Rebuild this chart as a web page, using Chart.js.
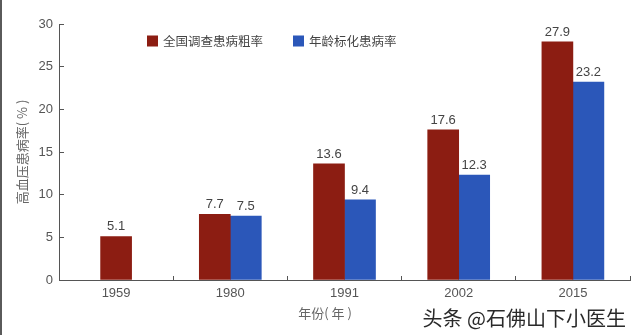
<!DOCTYPE html>
<html><head><meta charset="utf-8">
<script src="https://cdn.jsdelivr.net/npm/chart.js@4.4.1/dist/chart.umd.min.js"></script>
<style>html,body{margin:0;padding:0;background:#fff;overflow:hidden}#wrap{width:640px;height:335px;position:relative}</style>
</head><body><div id="wrap"><canvas id="c" width="640" height="335"></canvas></div>
<script>
const categories = ['1959', '1980', '1991', '2002', '2015'];
const crudeRate = [5.1, 7.7, 13.6, 17.6, 27.9];
const standardizedRate = [null, 7.5, 9.4, 12.3, 23.2];
const seriesNames = ['全国调查患病粗率', '年龄标化患病率'];
const yTicks = [0, 5, 10, 15, 20, 25, 30];
const yTitle = '高血压患病率( % )';
const xTitle = '年份( 年 )';
const watermark = '头条 @石佛山下小医生';

const RED = '#8c1d12';
const BLUE = '#2b57b9';
const LATIN = "'Liberation Sans', Arial, 'Noto Sans CJK SC', sans-serif";
const CJK = "'Noto Sans CJK SC', 'Liberation Sans', sans-serif";

const extras = {
  id: 'extras',
  beforeDraw(chart) {
    const ctx = chart.ctx;
    ctx.save();
    ctx.fillStyle = '#fff';
    ctx.fillRect(0, 0, chart.width, chart.height);
    ctx.fillStyle = '#5a5a5a';
    ctx.fillRect(0, 0, 2, chart.height);
    ctx.restore();
  },
  afterDatasetsDraw(chart) {
    const ctx = chart.ctx;
    ctx.save();
    ctx.font = '13px ' + LATIN;
    ctx.fillStyle = '#444';
    ctx.textAlign = 'center';
    ctx.textBaseline = 'alphabetic';
    chart.data.datasets.forEach((ds, di) => {
      const meta = chart.getDatasetMeta(di);
      meta.data.forEach((bar, i) => {
        const v = ds.data[i];
        if (v == null) return;
        ctx.fillText(v.toFixed(1), bar.x, bar.y - 6);
      });
    });
    ctx.restore();
  },
  afterDraw(chart) {
    const ctx = chart.ctx;
    const ca = chart.chartArea;
    ctx.save();
    // legend
    ctx.font = '12.5px ' + CJK;
    ctx.textBaseline = 'middle';
    ctx.textAlign = 'left';
    const ly = ca.top + 17;
    const starts = [ca.left + 88, ca.left + 234];
    chart.data.datasets.forEach((ds, i) => {
      const x = starts[i];
      ctx.fillStyle = ds.backgroundColor;
      ctx.fillRect(x, ly - 5.5, 11, 11);
      ctx.fillStyle = '#444';
      ctx.fillText(ds.label, x + 16, ly);
    });
    // watermark
    ctx.font = '20px ' + CJK;
    ctx.textAlign = 'right';
    ctx.textBaseline = 'middle';
    ctx.lineWidth = 3;
    ctx.strokeStyle = 'rgba(255,255,255,0.9)';
    ctx.strokeText(watermark, chart.width - 14, 318);
    ctx.fillStyle = '#2a2a2a';
    ctx.fillText(watermark, chart.width - 14, 318);
    ctx.restore();
  }
};

new Chart(document.getElementById('c'), {
  type: 'bar',
  data: {
    labels: categories,
    datasets: [
      { label: seriesNames[0], data: crudeRate, backgroundColor: RED },
      { label: seriesNames[1], data: standardizedRate, backgroundColor: BLUE }
    ]
  },
  options: {
    responsive: false,
    animation: false,
    devicePixelRatio: 1,
    skipNull: true,
    barThickness: 31,
    layout: { padding: { left: 0, right: 10, top: 24, bottom: 0 } },
    plugins: { legend: { display: false }, tooltip: { enabled: false } },
    scales: {
      x: {
        offset: true,
        grid: { offset: true, drawOnChartArea: false, drawTicks: true, tickLength: -4, color: '#555', lineWidth: 1 },
        border: { display: true, color: '#555', width: 1 },
        ticks: { padding: 10, color: '#555', font: { size: 13, family: LATIN } },
        title: { display: true, text: xTitle + '\u3000\u3000\u3000', color: '#666', font: { size: 13, family: CJK }, padding: { top: 0, bottom: 14 } },
        afterFit(s) { s.height = 55; }
      },
      y: {
        min: 0, max: 30,
        afterBuildTicks(s) { s.ticks = yTicks.map(v => ({ value: v })); },
        grid: { drawOnChartArea: false, drawTicks: true, tickLength: -5, color: '#555', lineWidth: 1 },
        border: { display: true, color: '#555', width: 1 },
        ticks: { padding: 11, color: '#555', font: { size: 13, family: LATIN } },
        title: { display: true, text: yTitle, color: '#666', font: { size: 13, family: CJK }, padding: { top: 14, bottom: 0 } },
        afterFit(s) { s.width = 59; }
      }
    }
  },
  plugins: [extras]
});
</script></body></html>
